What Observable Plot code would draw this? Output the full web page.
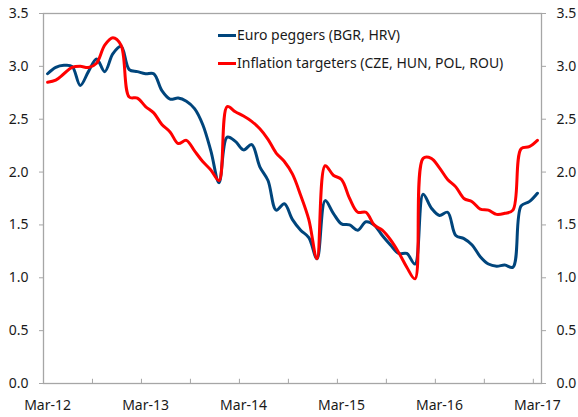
<!DOCTYPE html>
<html>
<head>
<meta charset="utf-8">
<script src="https://cdn.jsdelivr.net/npm/d3@7"></script>
<script src="https://cdn.jsdelivr.net/npm/@observablehq/plot@0.6"></script>
<style>
  html, body { margin: 0; padding: 0; background: #fff; }
  #wrap { position: relative; width: 578px; height: 417px; font-family: "Noto Sans", sans-serif; }
  #legend { position: absolute; left: 218px; top: 21px; font-size: 14px; color: #1a1a1a; line-height: 28px; }
  #legend .row { display: flex; align-items: center; white-space: nowrap; }
  #legend .sw { display: inline-block; width: 18px; height: 3px; margin-right: 1px; }
</style>
</head>
<body>
<div id="wrap"><div id="legend"></div></div>
<script>
// Monthly, Mar-12 .. Mar-17 (61 months)
const months = d3.range(61);
const xTickLabels = ["Mar-12", "Mar-13", "Mar-14", "Mar-15", "Mar-16", "Mar-17"];
const xLabelIdx = [0, 12, 24, 36, 48, 60];
const xMinorIdx = [-0.5, 5.5, 11.5, 17.5, 23.5, 29.5, 35.5, 41.5, 47.5, 53.5, 59.5];
const yTicks = [0, 0.5, 1, 1.5, 2, 2.5, 3, 3.5];
const seriesNames = ["Euro peggers (BGR, HRV)", "Inflation targeters (CZE, HUN, POL, ROU)"];
const seriesColors = ["#00457c", "#ff0000"];

const euroPeggers = [
  2.93, 2.99, 3.01, 3.00, 2.82, 2.95, 3.07, 2.95, 3.12, 3.19,
  2.97, 2.95, 2.93, 2.93, 2.77, 2.69, 2.70, 2.67, 2.60, 2.45,
  2.20, 1.90, 2.33, 2.29, 2.21, 2.26, 2.05, 1.92, 1.64, 1.70,
  1.55, 1.45, 1.38, 1.18, 1.73, 1.61, 1.51, 1.50, 1.45, 1.53,
  1.50, 1.40, 1.31, 1.23, 1.23, 1.13, 1.79, 1.66, 1.59, 1.62,
  1.40, 1.37, 1.31, 1.20, 1.13, 1.11, 1.12, 1.10, 1.68, 1.72,
  1.80
];
const inflationTargeters = [
  2.85, 2.87, 2.93, 2.99, 3.00, 2.99, 3.03, 3.20, 3.27, 3.20,
  2.71, 2.70, 2.62, 2.56, 2.45, 2.38, 2.27, 2.30, 2.20, 2.10,
  2.02, 1.92, 2.62, 2.57, 2.53, 2.48, 2.41, 2.31, 2.18, 2.10,
  1.98, 1.78, 1.55, 1.18, 2.06, 1.97, 1.93, 1.75, 1.62, 1.62,
  1.50, 1.45, 1.36, 1.24, 1.10, 0.99, 2.13, 2.13, 2.04, 1.93,
  1.86, 1.75, 1.72, 1.65, 1.64, 1.60, 1.61, 1.64, 2.22, 2.24,
  2.30
];

const rows = [];
months.forEach((m, i) => {
  rows.push({m, v: euroPeggers[i], s: seriesNames[0]});
  rows.push({m, v: inflationTargeters[i], s: seriesNames[1]});
});

const axisGray = "#a6a6a6";
const textCol = "#1a1a1a";

const chart = Plot.plot({
  width: 578,
  height: 417,
  marginLeft: 43,
  marginRight: 37,
  marginTop: 13,
  marginBottom: 34,
  style: {fontFamily: "'Noto Sans', sans-serif", fontSize: "14px", color: textCol, background: "#fff"},
  x: {type: "linear", domain: [-0.5, 60.5]},
  y: {domain: [0, 3.5]},
  color: {domain: seriesNames, range: seriesColors},
  marks: [
    Plot.frame({stroke: axisGray, strokeWidth: 1.3}),
    Plot.axisY({anchor: "left", ticks: yTicks, tickFormat: d3.format(".1f"), tickSize: 4, tickPadding: 11, stroke: axisGray, fill: textCol, label: null, fontSize: 14}),
    Plot.axisY({anchor: "right", ticks: yTicks, tickFormat: d3.format(".1f"), tickSize: 4, tickPadding: 11, stroke: axisGray, fill: textCol, label: null, fontSize: 14}),
    Plot.axisX({anchor: "bottom", ticks: xLabelIdx, tickSize: 0, tickPadding: 17, tickFormat: (d) => xTickLabels[xLabelIdx.indexOf(d)], fill: textCol, label: null, fontSize: 14}),
    Plot.ruleX(xMinorIdx, {x: d => d, y1: 0, y2: 0.04, stroke: axisGray, strokeWidth: 1}),
    Plot.line(rows, {x: "m", y: "v", z: "s", stroke: "s", strokeWidth: 3, curve: "catmull-rom"})
  ]
});
document.getElementById("wrap").prepend(chart);

const legend = document.getElementById("legend");
seriesNames.forEach((name, i) => {
  const row = document.createElement("div");
  row.className = "row";
  const sw = document.createElement("span");
  sw.className = "sw";
  sw.style.background = seriesColors[i];
  row.appendChild(sw);
  row.appendChild(document.createTextNode(name));
  legend.appendChild(row);
});
</script>
</body>
</html>
